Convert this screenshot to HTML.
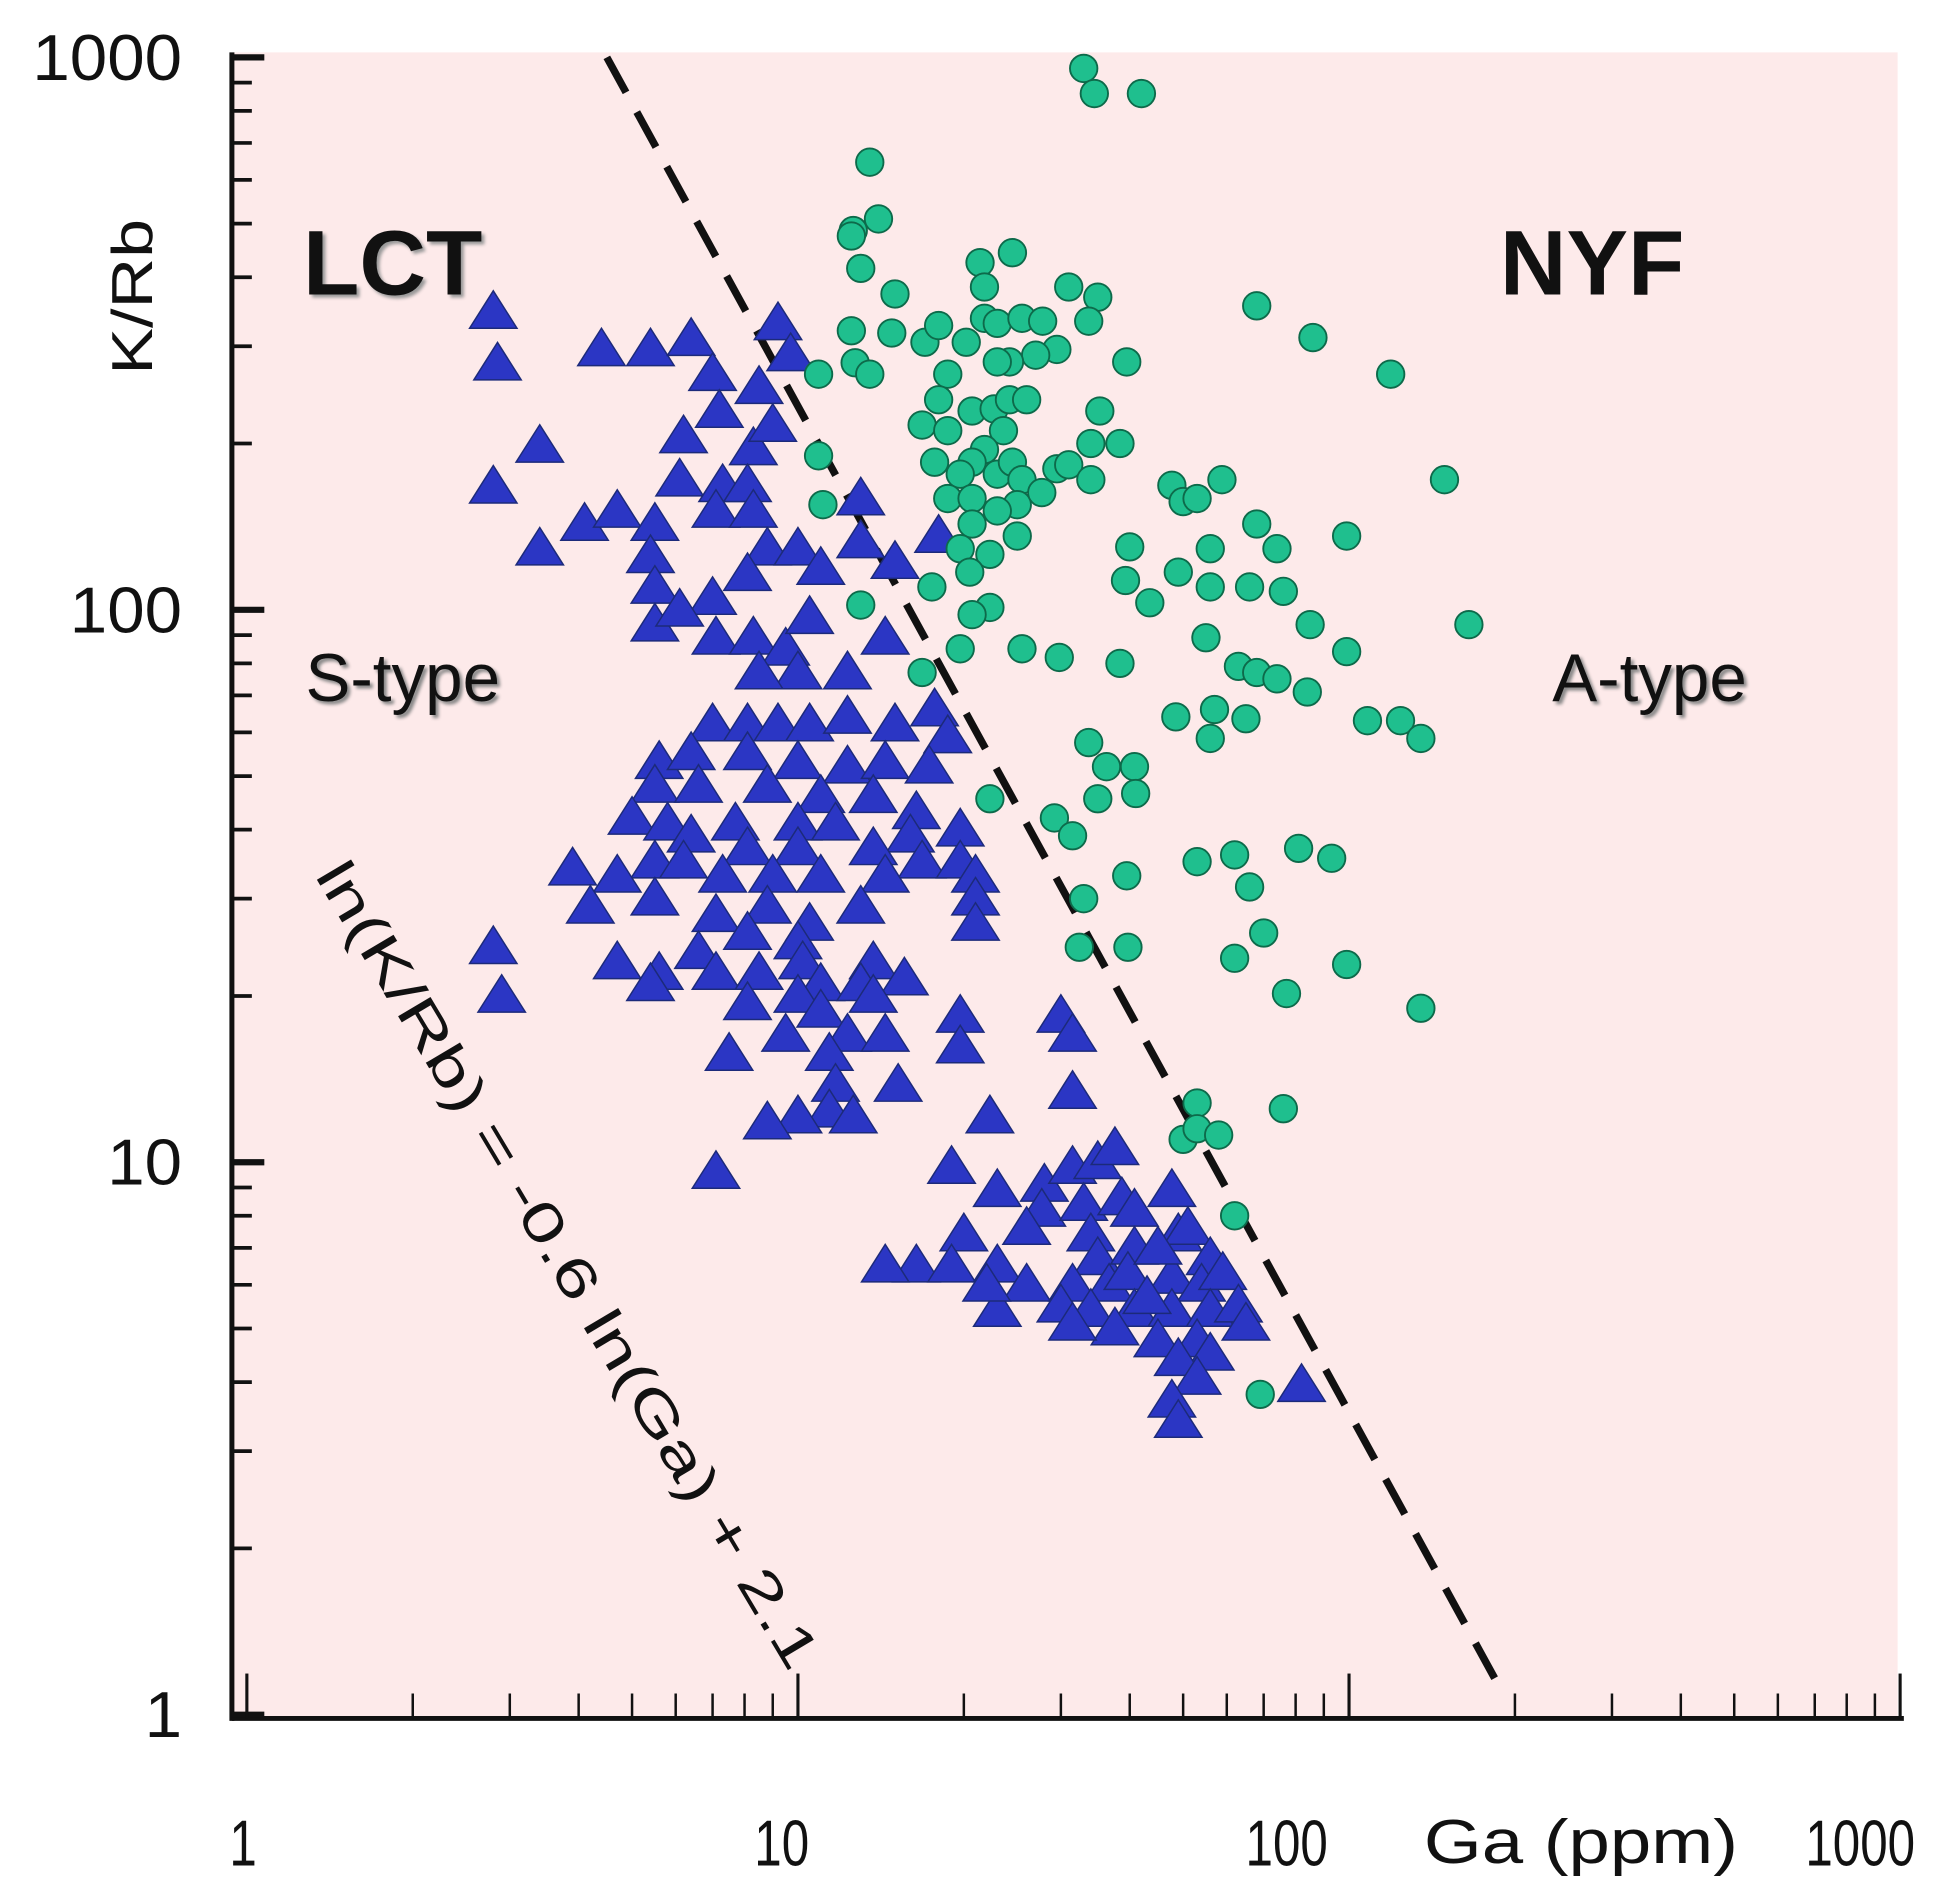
<!DOCTYPE html>
<html><head><meta charset="utf-8"><style>
html,body{margin:0;padding:0;background:#fff;}
svg{display:block;}
text{font-family:"Liberation Sans",sans-serif;}
</style></head><body>
<svg id="chart" width="1945" height="1903" viewBox="0 0 1560 1526" preserveAspectRatio="none" xmlns="http://www.w3.org/2000/svg">
<rect x="186" y="42" width="1336" height="1336" fill="#fdeaea"/>
<g id="marks"></g>
<g id="axes"></g>
<text transform="translate(122,238) rotate(-90)" text-anchor="middle" font-size="46" fill="#111" textLength="125" lengthAdjust="spacingAndGlyphs">K/Rb</text>
<text x="1142" y="1494" font-size="50" fill="#111" textLength="252" lengthAdjust="spacingAndGlyphs">Ga (ppm)</text>
<text x="243" y="236" font-size="74" font-weight="bold" fill="#111" style="text-shadow:3px 3px 3px #999">LCT</text>
<text x="1203" y="236" font-size="74" font-weight="bold" fill="#111">NYF</text>
<text x="245" y="562" font-size="54" fill="#111" style="text-shadow:3px 3px 3px #888">S-type</text>
<text x="1245" y="562" font-size="54" fill="#111" style="text-shadow:3px 3px 3px #888">A-type</text>
<text transform="translate(252,702) rotate(59.2)" font-size="44" fill="#111" textLength="745" lengthAdjust="spacingAndGlyphs">ln(K/Rb) = -0.6 ln(Ga) + 2.1</text>
</svg>
<script>
const xTickLabels = ["1","10","100","1000"];
const xTickValues = [1,10,100,1000];
const yTickLabels = ["1","10","100","1000"];
const yTickValues = [1,10,100,1000];
const lineGa = [4.5, 185];
const lineKRb = [1000, 1.15];
const lctGa = [2.8,2.85,2.8,3.4,3.4,4.1,4.7,4.4,5.4,6.4,7.0,7.2,6.2,6.1,5.5,5.4,5.5,5.5,7.3,8.3,9.0,9.2,9.7,8.5,8.1,7.1,8.3,8.8,10,11,8.1,7.0,6.1,7.1,8.3,9.5,10.5,13,13,15,18,14.4,12.3,10,8.5,7.0,8.1,9.2,10.5,12.3,15,17.7,18.7,5.6,6.4,8.1,10,12.3,14.4,17.3,5.5,6.6,8.8,11,13.7,16.4,5.0,5.8,6.4,7.7,10,11.7,16,19.7,5.5,6.2,8.1,10,13.7,16.8,19.7,3.9,4.7,7.3,9.0,11,14.4,21,4.2,5.5,7.1,8.8,10.5,13,21,21,8.1,10,6.6,10.2,13.7,5.6,7.1,8.5,11,13,15.6,4.7,2.8,2.9,5.4,8.1,10,13.7,11,19.7,9.5,12.3,14.4,7.5,11.4,19.7,30,31.5,31.5,15.2,11.7,11.4,10,8.8,12.6,7.1,22.3,19,23,28,31.5,35,37.6,27.7,33,38.7,40.8,47.7,49,26,20,16.4,19,23,34,35,40.8,51,56,31.5,36.7,39.7,47.7,54,59,26,23,30,34,40.8,47.7,56,63,65,37.6,45,53,56,49,53,47.7,49,82,22,14.4,31.5,43,45];
const lctKRb = [346,279,167,198,129,143,151,296,296,309,267,229,206,172,143,125,110,94,168,196,216,330,290,253,168,151,151,129,129,119,116,105,100,89,89,85,97,159,133,122,136,89,77,77,77,62,62,62,62,64,62,66,59,53,55,55,53,52,53,52,48,48,48,46,46,43,42,41,39,41,41,41,39,40,35,35,37,37,37,35,35,34,33,33,33,33,33,33,29,30,28,29,27,29,30,27,26,25,24,23,23,22,22,22,21,21,21.5,23,24.5,20,21,19.4,20,20,18.8,18.4,17,17,17,15.7,15.7,16.2,18.4,17,13.4,13.8,13.8,12.4,12.1,11.8,12.1,9.6,12.1,9.8,8.9,9.1,9.8,10,10.6,8.2,8.4,8.6,8.2,8.9,7.4,7.6,7.4,6.5,6.5,6.5,7.4,6.7,7.0,7.6,6.7,6.0,6.0,6.3,6.2,6.0,6.3,6.0,5.4,5.5,5.4,5.4,5.4,5.4,5.5,5.1,5.0,4.76,4.76,4.5,4.4,4.07,3.7,3.4,3.95,6.0,6.5,5.1,5.7,7.0];
const nyfGa = [33,34.5,42,13.5,12.6,12.5,14,13,15,10.9,12.5,12.7,14.8,13.5,17,18,21.4,24.5,21.8,21.8,23,25.5,27.8,31,35,33.7,29.5,27,24.2,23,20.2,18.7,18,16.8,18.7,20.7,22.7,24.2,26,23.6,21.8,20.7,19.7,17.7,18.7,20.7,23,24.5,25.5,25,23,20.7,19.7,22.3,25,27.7,29.5,31,34,34,35.3,38.4,39.5,10.9,11.1,13,17.5,20.5,22.3,20.7,25.5,29.8,38.4,16.8,19.7,22.3,33.7,36.3,40.8,35,41,29.2,31.5,33,32.4,39.5,39.7,47.7,50,53,58.8,56,68,74,66,76,85,40,39.3,43.5,49,56,55,63,68,74,84,48.5,57,56,65,68,86,119,99,149,165,99,108,124,135,53,62,66,81,93,70,62,77,99,135,53,50,53,58,62,69,76];
const nyfKRb = [955,860,860,646,486,475,510,415,373,267,320,280,317,267,305,327,425,443,384,337,330,337,333,384,368,333,296,289,281,281,305,267,240,216,211,229,231,240,240,211,195,185,176,185,159,159,176,185,172,155,151,143,129,126,136,163,180,183,172,200,229,200,281,190,155,102,110,117,101,98,85,82,80,77,85,45.5,57.5,52,52,45.5,46.5,42,39,30,24.5,33,24.5,168,157,159,172,129,143,129,110,108,94,130,113,103,117,110,89,79,77,75,71,64,66,58.5,63.5,355,311,267,136,172,94,84,63,63,58.5,35,36,31.5,37,35.5,26,23.4,20.2,22.8,19,12.8,11,11.5,11.2,8,3.8,12.5];

const NS = "http://www.w3.org/2000/svg";
const X0 = 198, XD = 442, Y0 = 1375, YD = 443;
function xScale(v){ return X0 + XD * Math.log10(v); }
function yScale(v){ return Y0 - YD * Math.log10(v); }
function mk(tag, attrs, parent){ const e = document.createElementNS(NS, tag); for (const k in attrs) e.setAttribute(k, attrs[k]); parent.appendChild(e); return e; }

const marks = document.getElementById('marks');
const axes = document.getElementById('axes');

const dl = mk('line', {x1: xScale(lineGa[0]), y1: yScale(lineKRb[0]), x2: xScale(lineGa[1]), y2: yScale(lineKRb[1]), stroke: '#111', 'stroke-width': 6, 'stroke-dasharray': '32,18'}, marks);



for (let i = 0; i < lctGa.length; i++) {
  const cx = xScale(lctGa[i]), cy = yScale(lctKRb[i]);
  const p = mk('polygon', {points: `${cx},${cy-17} ${cx-19},${cy+13} ${cx+19},${cy+13}`, fill: '#2b36c4', stroke: '#1c2a7a', 'stroke-width': 1.2}, marks);
  
  
}
for (let i = 0; i < nyfGa.length; i++) {
  const c = mk('circle', {cx: xScale(nyfGa[i]), cy: yScale(nyfKRb[i]), r: 11, fill: '#1fbf8e', stroke: '#0d6a4a', 'stroke-width': 1.5}, marks);
  
  
}

const ya = mk('line', {x1: 186, y1: 42, x2: 186, y2: 1380, stroke: '#111', 'stroke-width': 4}, axes);


const xa = mk('line', {x1: 186, y1: 1378, x2: 1527, y2: 1378, stroke: '#111', 'stroke-width': 4}, axes);


for (let d = 0; d < 3; d++) {
  for (let m = 1; m <= 9; m++) {
    const v = Math.pow(10, d) * m;
    const yy = yScale(v);
    const t = mk('line', {x1: 186, y1: yy, x2: 186 + (m === 1 ? 26 : 16), y2: yy, stroke: '#111', 'stroke-width': m === 1 ? 5 : 3}, axes);
    
    
    const xx = xScale(v);
    const u = mk('line', {x1: xx, y1: 1378, x2: xx, y2: 1378 - (m === 1 ? 36 : 20), stroke: '#111', 'stroke-width': m === 1 ? 2.5 : 2}, axes);
    
    
  }
}
const yt = mk('line', {x1: 186, y1: yScale(1000), x2: 212, y2: yScale(1000), stroke: '#111', 'stroke-width': 5}, axes);


const xt = mk('line', {x1: xScale(1000), y1: 1378, x2: xScale(1000), y2: 1342, stroke: '#111', 'stroke-width': 2.5}, axes);



for (let i = 0; i < yTickValues.length; i++) {
  const lab = yTickLabels[i];
  const t = mk('text', {x: 146, y: yScale(yTickValues[i]) + 18, 'text-anchor': 'end', 'font-size': 52, fill: '#111', textLength: 30 * lab.length, lengthAdjust: 'spacingAndGlyphs'}, axes);
  t.textContent = lab;
  
  
}
const xAnch = ['middle', 'middle', 'middle', 'end'];
const xShift = [-3, -13, -50, 0];
for (let i = 0; i < xTickValues.length; i++) {
  const lab = xTickLabels[i];
  const xx = i === 3 ? 1536 : xScale(xTickValues[i]) + xShift[i];
  const t = mk('text', {x: xx, y: 1496, 'text-anchor': xAnch[i], 'font-size': 52, fill: '#111', textLength: 22 * lab.length, lengthAdjust: 'spacingAndGlyphs'}, axes);
  t.textContent = lab;
  
  
}
</script>
</body></html>
